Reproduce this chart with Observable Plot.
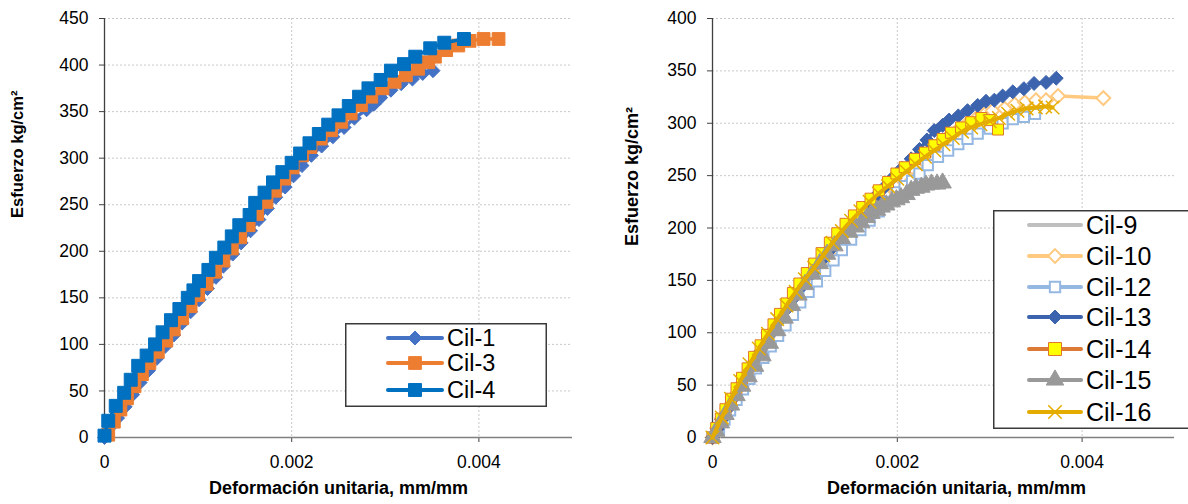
<!DOCTYPE html>
<html><head><meta charset="utf-8">
<script src="https://cdn.jsdelivr.net/npm/d3@7"></script>
<script src="https://cdn.jsdelivr.net/npm/@observablehq/plot@0.6"></script>
<style>
body{margin:0;background:#fff;font-family:"Liberation Sans",Arial,sans-serif;}
#wrap{position:relative;width:1188px;height:504px;overflow:hidden;background:#fff;}
.chart{position:absolute;top:0;}
</style></head><body><div id="wrap"></div>
<script>
// ---------- DATA (strain mm/mm, stress kg/cm2) ----------
const xTicks = [0, 0.002, 0.004];
const yTicksLeft = [0, 50, 100, 150, 200, 250, 300, 350, 400, 450];
const yTicksRight = [0, 50, 100, 150, 200, 250, 300, 350, 400];
const xTitle = "Deformación unitaria, mm/mm";
const yTitle = "Esfuerzo kg/cm²";

const namesLeft = ["Cil-1", "Cil-3", "Cil-4"];
const namesRight = ["Cil-9", "Cil-10", "Cil-12", "Cil-13", "Cil-14", "Cil-15", "Cil-16"];

const cil1 = [[0,0],[0.00005,10],[0.00014,21],[0.00022,33],[0.0003,46],[0.00038,59],[0.00047,72],[0.00056,85],[0.00065,98],[0.00074,110],[0.00083,123],[0.00092,135],[0.00101,148],[0.0011,160],[0.00119,172],[0.00127,184],[0.00137,197],[0.00146,209],[0.00156,222],[0.00165,234],[0.00174,246],[0.00183,258],[0.00193,269],[0.00202,281],[0.00211,292],[0.00221,303],[0.00232,313],[0.00244,323],[0.00256,333],[0.00267,343],[0.0028,352],[0.00288,358],[0.00295,365],[0.00306,373],[0.00317,380],[0.00329,385],[0.0034,391],[0.00351,394]];
const cil3 = [[0.00004,3],[0.0001,17],[0.00017,30],[0.00024,42],[0.00032,55],[0.0004,68],[0.00048,80],[0.00057,92],[0.00066,104],[0.00074,116],[0.00083,128],[0.00092,141],[0.001,153],[0.00109,165],[0.00118,178],[0.00127,190],[0.00136,203],[0.00145,215],[0.00154,228],[0.00163,240],[0.00173,253],[0.00182,265],[0.00192,278],[0.00201,290],[0.00211,303],[0.0022,312],[0.00231,321],[0.00242,330],[0.00253,339],[0.00263,348],[0.00274,357],[0.00285,366],[0.00297,375],[0.0031,382],[0.00322,389],[0.00335,396],[0.00346,403],[0.00353,409],[0.00365,416],[0.00378,421],[0.0039,426],[0.00405,428],[0.00421,428]];
const cil4 = [[0,2],[0.00004,18],[0.00012,34],[0.00021,48],[0.00028,62],[0.00036,77],[0.00045,88],[0.00054,100],[0.00062,113],[0.00071,126],[0.0008,138],[0.00089,150],[0.00095,158],[0.00101,168],[0.00111,180],[0.00119,193],[0.00128,204],[0.00136,216],[0.00144,228],[0.00155,239],[0.00161,252],[0.00171,263],[0.0018,274],[0.0019,285],[0.002,295],[0.00209,305],[0.00219,316],[0.00229,326],[0.00239,336],[0.0025,346],[0.00261,356],[0.00272,366],[0.00282,375],[0.00295,384],[0.00306,394],[0.0032,401],[0.00332,409],[0.00348,418],[0.00363,424],[0.00384,428]];

const cil9 = [[0,0],[0.0002,33],[0.0004,64],[0.0006,94],[0.0008,122],[0.001,148],[0.0012,172],[0.0014,194],[0.0016,212],[0.0018,227],[0.002,240],[0.0022,252],[0.0024,265],[0.0026,277],[0.0028,287],[0.00292,292]];
const cil10 = [[0,0],[0.00005,9],[0.0001,18],[0.00016,28],[0.00022,38],[0.00029,49],[0.00036,59],[0.00043,70],[0.0005,80],[0.00058,91],[0.00066,102],[0.00074,112],[0.00082,123],[0.0009,133],[0.00099,144],[0.00108,155],[0.00117,165],[0.00126,175],[0.00136,185],[0.00146,195],[0.00156,205],[0.00166,214],[0.00176,223],[0.00186,232],[0.00196,241],[0.00206,250],[0.00216,258],[0.00226,266],[0.00236,274],[0.00246,281],[0.00256,288],[0.00266,294],[0.00276,300],[0.00286,305],[0.00295,309],[0.00303,312],[0.00316,314],[0.00327,318],[0.00338,320],[0.0035,322],[0.00361,322],[0.00374,326],[0.00423,324]];
const cil12 = [[0,0],[0.00007,8],[0.00013,17],[0.00019,26],[0.00026,36],[0.00033,46],[0.0004,56],[0.00047,66],[0.00055,76],[0.00063,87],[0.00071,97],[0.00079,107],[0.00087,117],[0.00095,129],[0.00104,139],[0.00113,149],[0.00122,159],[0.00131,169],[0.0014,179],[0.0015,189],[0.0016,198],[0.0017,207],[0.0018,216],[0.0019,225],[0.002,234],[0.00208,240],[0.00216,245],[0.00224,252],[0.00233,260],[0.00244,268],[0.00255,274],[0.00266,280],[0.00276,285],[0.00287,290],[0.003,295],[0.00314,300],[0.00325,304],[0.00337,306],[0.00349,309]];
const cil13 = [[0,0],[0.00005,8],[0.0001,17],[0.00016,27],[0.00022,37],[0.00029,48],[0.00036,58],[0.00043,69],[0.0005,80],[0.00058,91],[0.00066,102],[0.00074,113],[0.00082,124],[0.0009,135],[0.00099,146],[0.00108,157],[0.00117,168],[0.00126,178],[0.00135,189],[0.00145,199],[0.00155,209],[0.00165,219],[0.00175,229],[0.00185,238],[0.00195,248],[0.00205,257],[0.00215,266],[0.00224,275],[0.00232,284],[0.0024,293],[0.00249,298],[0.00256,303],[0.00266,307],[0.00276,312],[0.00287,317],[0.00296,321],[0.00305,322],[0.00314,326],[0.00325,330],[0.00337,333],[0.00348,338],[0.00361,339],[0.00372,343]];
const cil14 = [[0,0],[0.00004,9],[0.00009,18],[0.00014,27],[0.0002,37],[0.00026,47],[0.00032,57],[0.00038,66],[0.00045,77],[0.00052,88],[0.00059,98],[0.00066,108],[0.00073,118],[0.0008,128],[0.00087,138],[0.00094,147],[0.00102,157],[0.0011,166],[0.00118,176],[0.00127,186],[0.00135,195],[0.00144,204],[0.00153,212],[0.00162,220],[0.00171,228],[0.0018,236],[0.0019,244],[0.00199,252],[0.00208,258],[0.00219,266],[0.0023,272],[0.0024,279],[0.00249,285],[0.00258,291],[0.00269,296],[0.0028,301],[0.00291,305],[0.003,303],[0.00309,294]];
const cil15 = [[0,0],[0.00004,6],[0.00009,14],[0.00014,22],[0.0002,31],[0.00026,40],[0.00032,49],[0.00039,58],[0.00046,68],[0.00054,78],[0.00062,90],[0.0007,102],[0.00078,114],[0.00086,126],[0.00093,136],[0.001,146],[0.00108,156],[0.00116,166],[0.00124,175],[0.00132,183],[0.0014,190],[0.00148,196],[0.00155,201],[0.00161,205],[0.00167,210],[0.00172,214],[0.00178,217],[0.00183,220],[0.00188,222],[0.00194,225],[0.00199,227],[0.00204,229],[0.0021,232],[0.00215,236],[0.0022,238],[0.00226,239],[0.00231,241],[0.00237,242],[0.00243,242],[0.00249,243]];
const cil16 = [[0,0],[0.0001,19],[0.0002,37],[0.0003,54],[0.0004,70],[0.0005,85],[0.0006,99],[0.0007,113],[0.0008,126],[0.0009,139],[0.001,151],[0.0011,162],[0.0012,174],[0.0013,186],[0.0014,197],[0.0015,207],[0.0016,216],[0.0017,225],[0.0018,233],[0.0019,240],[0.002,247],[0.0021,254],[0.0022,261],[0.0023,268],[0.0024,274],[0.0025,280],[0.0026,286],[0.0027,292],[0.0028,296],[0.0029,299],[0.003,302],[0.0031,305],[0.0032,309],[0.0033,312],[0.0034,314],[0.0035,315],[0.0036,316],[0.00368,315]];

// ---------- STYLES ----------
const leftSeries = [
  {name: namesLeft[0], data: cil1, line: "#4472C4", lw: 3.5, symbol: "diamond2", r: 6.3, fill: "#4472C4", stroke: "#4472C4", sw: 1},
  {name: namesLeft[1], data: cil3, line: "#ED7D31", lw: 3.5, symbol: "square", r: 7.2, fill: "#ED7D31", stroke: "#ED7D31", sw: 1},
  {name: namesLeft[2], data: cil4, line: "#0070C0", lw: 3.5, symbol: "square", r: 7.3, fill: "#0070C0", stroke: "#0070C0", sw: 1}
];
const rightSeries = [
  {name: namesRight[0], data: cil9, line: "#BFBFBF", lw: 3.5, symbol: null},
  {name: namesRight[1], data: cil10, line: "#FFC97F", lw: 3.5, symbol: "diamond2", r: 6.2, fill: "#fff", stroke: "#FFC97F", sw: 2},
  {name: namesRight[2], data: cil12, line: "#95B8E3", lw: 3.5, symbol: "square", r: 5.8, fill: "#fff", stroke: "#95B8E3", sw: 2},
  {name: namesRight[3], data: cil13, line: "#3B63AE", lw: 3.5, symbol: "diamond2", r: 6.3, fill: "#3B63AE", stroke: "#3B63AE", sw: 1},
  {name: namesRight[4], data: cil14, line: "#DD7B36", lw: 3.5, symbol: "square", r: 6.2, fill: "#FFFF00", stroke: "#E0752A", sw: 1},
  {name: namesRight[5], data: cil15, line: "#999999", lw: 3.5, symbol: "triangle", r: 6.5, fill: "#999999", stroke: "#999999", sw: 1},
  {name: namesRight[6], data: cil16, line: "#E5AC00", lw: 4, symbol: "times", r: 6.2, fill: "none", stroke: "#E5AC00", sw: 1.5, curve: "catmull-rom"}
];

const tickFmt = d => d === 0 ? "0" : d.toFixed(3);

function seriesMarks(list) {
  const marks = [];
  for (const s of list) {
    marks.push(Plot.line(s.data, {x: d => d[0], y: d => d[1], stroke: s.line, strokeWidth: s.lw, curve: s.curve || "linear"}));
    if (s.symbol) marks.push(Plot.dot(s.data, {x: d => d[0], y: d => d[1], symbol: s.symbol, r: s.r, fill: s.fill, stroke: s.stroke, strokeWidth: s.sw}));
  }
  return marks;
}

function makeChart(opts) {
  return Plot.plot({
    width: 594, height: 504,
    marginLeft: opts.ml, marginRight: opts.mr, marginTop: 18, marginBottom: 67,
    style: {fontFamily: '"Liberation Sans", Arial, sans-serif', fontSize: "17.5px", color: "#000", background: "transparent", overflow: "visible"},
    x: {domain: [0, 0.005]},
    y: {domain: opts.yDomain},
    marks: [
      Plot.gridY({ticks: opts.yTicks, stroke: "#c8c8c8", strokeOpacity: 1, strokeDasharray: "2,2"}),
      Plot.gridX({ticks: [0.002, 0.004], stroke: "#c8c8c8", strokeOpacity: 1, strokeDasharray: "2,2"}),
      Plot.axisY({ticks: opts.yTicks, tickSize: 5, tickPadding: 11, label: null, stroke: "#404040", fontSize: 17.5}),
      Plot.axisX({ticks: xTicks, tickFormat: tickFmt, tickSize: 5, tickPadding: 13, label: null, stroke: "#404040", fontSize: 17.5}),
      Plot.ruleY([0], {stroke: "#808080", strokeWidth: 1.5}),
      Plot.ruleX([0], {stroke: "#404040", strokeWidth: 1.3}),
      ...seriesMarks(opts.series),
      Plot.text([xTitle], {frameAnchor: "bottom", dy: 56, dx: opts.xdx, fontWeight: "bold", fontSize: 18, fill: "#000"}),
      Plot.text([yTitle], {frameAnchor: "left", rotate: -90, dx: opts.ydx, dy: opts.ydy, fontWeight: "bold", fontSize: opts.yfs, fill: "#000"})
    ]
  });
}

const wrap = document.getElementById("wrap");
const left = makeChart({ml: 104, mr: 22, yDomain: [0, 450], yTicks: yTicksLeft, series: leftSeries, xdx: 0, ydx: -87, ydy: -10, yfs: 16.5});
left.classList.add("chart"); left.style.left = "0px";
wrap.appendChild(left);
const right = makeChart({ml: 118, mr: 14, yDomain: [0, 400], yTicks: yTicksRight, series: rightSeries, xdx: 13, ydx: -80, ydy: 18, yfs: 18});
right.classList.add("chart"); right.style.left = "594px";
wrap.appendChild(right);

// ---------- LEGENDS ----------
const symMap = {square: d3.symbolSquare, diamond2: d3.symbolDiamond2, triangle: d3.symbolTriangle, times: d3.symbolTimes};
function legend(series, o) {
  const svg = d3.create("svg").attr("width", o.width).attr("height", o.height)
    .style("position", "absolute").style("left", o.left + "px").style("top", o.top + "px").style("overflow", "visible");
  svg.append("rect").attr("x", 0.75).attr("y", 0.75).attr("width", o.width - 1.5).attr("height", o.height - 1.5)
    .attr("fill", "#fff").attr("stroke", "#3a3a3a").attr("stroke-width", 1.5);
  series.forEach((s, i) => {
    const y = o.rowY[i];
    svg.append("line").attr("x1", o.x1).attr("x2", o.x2).attr("y1", y).attr("y2", y)
      .attr("stroke", s.line).attr("stroke-width", 4).attr("stroke-linecap", "round");
    if (s.symbol) {
      const rr = s.symbol === "square" && s.fill === "#FFFF00" ? 7.3 : s.r;
      svg.append("path").attr("d", d3.symbol(symMap[s.symbol], Math.PI * rr * rr)())
        .attr("transform", `translate(${(o.x1 + o.x2) / 2},${y})`)
        .attr("fill", s.fill).attr("stroke", s.stroke).attr("stroke-width", s.sw);
    }
    svg.append("text").attr("x", o.tx).attr("y", y).attr("dy", "0.36em")
      .attr("font-family", '"Liberation Sans", Arial, sans-serif').attr("font-size", o.fs).attr("fill", "#000").text(s.name);
  });
  wrap.appendChild(svg.node());
}
legend(leftSeries, {left: 345, top: 323, width: 202, height: 84, rowY: [15, 40, 67], x1: 43, x2: 97, tx: 102, fs: 23.5});
legend(rightSeries, {left: 993, top: 210, width: 205, height: 219, rowY: [15, 46, 77, 107, 139, 170, 202], x1: 36, x2: 88, tx: 93, fs: 25});
</script></body></html>
